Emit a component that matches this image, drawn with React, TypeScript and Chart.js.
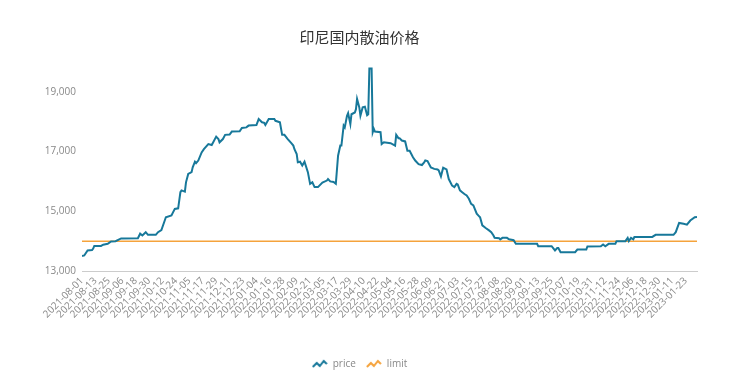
import React, { useEffect, useRef } from 'react';
import { Chart, registerables } from 'chart.js';

Chart.register(...registerables);

const TITLE = '印尼国内散油价格';
const START_DATE = '2021-08-01';
const END_DATE = '2023-02-02';

const priceDates = [
  '2021-08-01', '2021-08-03', '2021-08-06', '2021-08-10', '2021-08-11', '2021-08-12', '2021-08-18', '2021-08-20',
  '2021-08-24', '2021-08-27', '2021-08-31', '2021-09-05', '2021-09-20', '2021-09-22', '2021-09-24', '2021-09-27',
  '2021-09-29', '2021-10-06', '2021-10-08', '2021-10-11', '2021-10-14', '2021-10-15', '2021-10-20', '2021-10-23',
  '2021-10-26', '2021-10-28', '2021-10-29', '2021-11-01', '2021-11-02', '2021-11-04', '2021-11-07', '2021-11-08',
  '2021-11-10', '2021-11-11', '2021-11-13', '2021-11-16', '2021-11-18', '2021-11-22', '2021-11-25', '2021-11-26',
  '2021-11-29', '2021-12-01', '2021-12-02', '2021-12-05', '2021-12-07', '2021-12-11', '2021-12-13', '2021-12-20',
  '2021-12-22', '2021-12-26', '2021-12-28', '2022-01-04', '2022-01-06', '2022-01-09', '2022-01-11', '2022-01-12',
  '2022-01-15', '2022-01-20', '2022-01-21', '2022-01-25', '2022-01-27', '2022-01-29', '2022-02-01', '2022-02-04',
  '2022-02-06', '2022-02-07', '2022-02-09', '2022-02-10', '2022-02-12', '2022-02-14', '2022-02-16', '2022-02-19',
  '2022-02-21', '2022-02-23', '2022-02-25', '2022-02-28', '2022-03-04', '2022-03-08', '2022-03-09', '2022-03-11',
  '2022-03-14', '2022-03-16', '2022-03-18', '2022-03-20', '2022-03-21', '2022-03-23', '2022-03-24', '2022-03-26',
  '2022-03-27', '2022-03-29', '2022-03-30', '2022-04-02', '2022-04-03', '2022-04-04', '2022-04-06', '2022-04-07',
  '2022-04-09', '2022-04-11', '2022-04-13', '2022-04-14', '2022-04-15', '2022-04-17', '2022-04-18', '2022-04-19',
  '2022-04-20', '2022-04-25', '2022-04-26', '2022-04-28', '2022-05-04', '2022-05-08', '2022-05-09', '2022-05-11',
  '2022-05-12', '2022-05-14', '2022-05-17', '2022-05-19', '2022-05-21', '2022-05-24', '2022-05-26', '2022-05-29',
  '2022-06-01', '2022-06-03', '2022-06-04', '2022-06-06', '2022-06-09', '2022-06-12', '2022-06-15', '2022-06-16',
  '2022-06-18', '2022-06-20', '2022-06-23', '2022-06-25', '2022-06-28', '2022-06-30', '2022-07-02', '2022-07-03',
  '2022-07-05', '2022-07-07', '2022-07-09', '2022-07-11', '2022-07-13', '2022-07-15', '2022-07-17', '2022-07-20',
  '2022-07-22', '2022-07-23', '2022-07-25', '2022-07-28', '2022-07-31', '2022-08-02', '2022-08-04', '2022-08-05',
  '2022-08-09', '2022-08-10', '2022-08-12', '2022-08-16', '2022-08-18', '2022-08-22', '2022-08-24', '2022-09-12',
  '2022-09-13', '2022-09-25', '2022-09-28', '2022-09-30', '2022-10-01', '2022-10-03', '2022-10-16', '2022-10-18',
  '2022-10-26', '2022-10-27', '2022-11-08', '2022-11-10', '2022-11-12', '2022-11-15', '2022-11-21', '2022-11-22',
  '2022-11-30', '2022-12-02', '2022-12-03', '2022-12-05', '2022-12-07', '2022-12-08', '2022-12-24', '2022-12-27',
  '2023-01-12', '2023-01-14', '2023-01-17', '2023-01-21', '2023-01-24', '2023-01-27', '2023-01-31', '2023-02-02',
];

const priceValues = [
  13500, 13520, 13690, 13700, 13750, 13840, 13840, 13880,
  13910, 13990, 14000, 14090, 14100, 14250, 14190, 14300,
  14210, 14210, 14300, 14370, 14690, 14800, 14860, 15080,
  15100, 15640, 15700, 15660, 15970, 16250, 16310, 16470,
  16660, 16610, 16700, 16970, 17080, 17250, 17220, 17290,
  17500, 17420, 17310, 17420, 17560, 17570, 17670, 17680,
  17790, 17810, 17870, 17890, 18090, 17980, 17960, 17890,
  18090, 18090, 18030, 17980, 17560, 17560, 17420, 17290,
  17200, 17080, 16920, 16640, 16660, 16530, 16660, 16310,
  15920, 15970, 15810, 15810, 15960, 16030, 16080, 16000,
  15980, 15920, 16860, 17200, 17200, 17870, 17810, 18200,
  18290, 17920, 18250, 18310, 18420, 18760, 18480, 18200,
  18480, 18500, 18220, 18250, 19780, 19780, 17650, 17760,
  17670, 17650, 17250, 17310, 17280, 17200, 17560, 17450,
  17450, 17370, 17340, 17030, 17030, 16810, 16700, 16580,
  16550, 16640, 16700, 16680, 16470, 16420, 16400, 16370,
  16170, 16460, 16400, 16080, 15860, 15810, 15920, 15900,
  15700, 15640, 15580, 15530, 15420, 15250, 15200, 14920,
  14840, 14800, 14530, 14440, 14360, 14300, 14190, 14110,
  14100, 14060, 14110, 14110, 14060, 14030, 13910, 13910,
  13830, 13830, 13690, 13770, 13770, 13630, 13630, 13720,
  13720, 13820, 13830, 13890, 13830, 13910, 13910, 14000,
  14000, 14110, 14000, 14110, 14060, 14140, 14140, 14210,
  14210, 14300, 14610, 14580, 14550, 14690, 14800, 14810,
];

const limitDates = [START_DATE, END_DATE];
const limitValues = [14000, 14000];

const yTickValues = [13000, 15000, 17000, 19000];
const Y_MIN = 13000;
const Y_MAX = 20000;
const X_TICK_STEP_DAYS = 12;

const PRICE_COLOR = '#17789a';
const LIMIT_COLOR = '#f5a33c';

const DAY_MS = 86400000;
const startMs = Date.parse(START_DATE + 'T00:00:00Z');
const dayIndex = (d: string) => Math.round((Date.parse(d + 'T00:00:00Z') - startMs) / DAY_MS);
const dateLabel = (i: number) => new Date(startMs + i * DAY_MS).toISOString().slice(0, 10);

function zigzagIcon(color: string): HTMLCanvasElement {
  const c = document.createElement('canvas');
  c.width = 16;
  c.height = 10;
  const ctx = c.getContext('2d')!;
  ctx.strokeStyle = color;
  ctx.lineWidth = 2;
  ctx.lineJoin = 'miter';
  ctx.beginPath();
  ctx.moveTo(1, 8);
  ctx.lineTo(5, 4);
  ctx.lineTo(8, 7);
  ctx.lineTo(12, 2);
  ctx.lineTo(15, 5);
  ctx.stroke();
  return c;
}

export default function App() {
  const ref = useRef<HTMLCanvasElement | null>(null);

  useEffect(() => {
    if (!ref.current) return;
    Chart.defaults.font.family = "'Open Sans', sans-serif";
    const maxDay = dayIndex(END_DATE);
    const chart = new Chart(ref.current, {
      type: 'line',
      data: {
        datasets: [
          {
            label: 'price',
            data: priceDates.map((d, i) => ({ x: dayIndex(d), y: priceValues[i] })),
            borderColor: PRICE_COLOR,
            backgroundColor: PRICE_COLOR,
            borderWidth: 2,
            pointRadius: 0,
            pointStyle: zigzagIcon(PRICE_COLOR),
            tension: 0,
          },
          {
            label: 'limit',
            data: limitDates.map((d, i) => ({ x: dayIndex(d), y: limitValues[i] })),
            borderColor: LIMIT_COLOR,
            backgroundColor: LIMIT_COLOR,
            borderWidth: 1.5,
            pointRadius: 0,
            pointStyle: zigzagIcon(LIMIT_COLOR),
            tension: 0,
          },
        ],
      },
      options: {
        animation: false,
        responsive: true,
        maintainAspectRatio: false,
        layout: { padding: { left: 14, right: 32, top: 0, bottom: 0 } },
        plugins: {
          title: {
            display: true,
            text: TITLE,
            color: '#333',
            font: { size: 15, family: "'Noto Sans CJK SC', sans-serif", weight: 'normal' },
            padding: { top: 20, bottom: 16 },
          },
          legend: {
            position: 'bottom',
            labels: {
              usePointStyle: true,
              pointStyleWidth: 16,
              boxHeight: 10,
              padding: 10,
              color: '#888',
              font: { size: 10 },
            },
          },
          tooltip: { enabled: false },
        },
        scales: {
          x: {
            type: 'linear',
            min: 0,
            max: maxDay,
            grid: { display: false, drawTicks: false },
            border: { display: true, color: '#ccc', width: 1 },
            afterBuildTicks: (scale: any) => {
              const t: any[] = [];
              for (let v = 0; v <= maxDay; v += X_TICK_STEP_DAYS) t.push({ value: v });
              scale.ticks = t;
            },
            afterFit: (scale: any) => {
              scale.height = 78;
            },
            ticks: {
              autoSkip: false,
              minRotation: 45,
              maxRotation: 45,
              padding: 4,
              color: '#888',
              font: { size: 10 },
              callback: (v: any) => dateLabel(Number(v)),
            },
          },
          y: {
            min: Y_MIN,
            max: Y_MAX,
            grid: { display: false, drawTicks: false },
            border: { display: false },
            afterBuildTicks: (scale: any) => {
              scale.ticks = yTickValues.map((v) => ({ value: v }));
            },
            afterFit: (scale: any) => {
              scale.width = 60;
            },
            ticks: {
              padding: 6,
              color: '#888',
              font: { size: 10 },
              callback: (v: any) => Number(v).toLocaleString('en-US'),
            },
          },
        },
      },
    });
    return () => chart.destroy();
  }, []);

  return (
    <div style={{ position: 'relative', height: 371, marginBottom: -8 }}>
      <canvas ref={ref} />
    </div>
  );
}
